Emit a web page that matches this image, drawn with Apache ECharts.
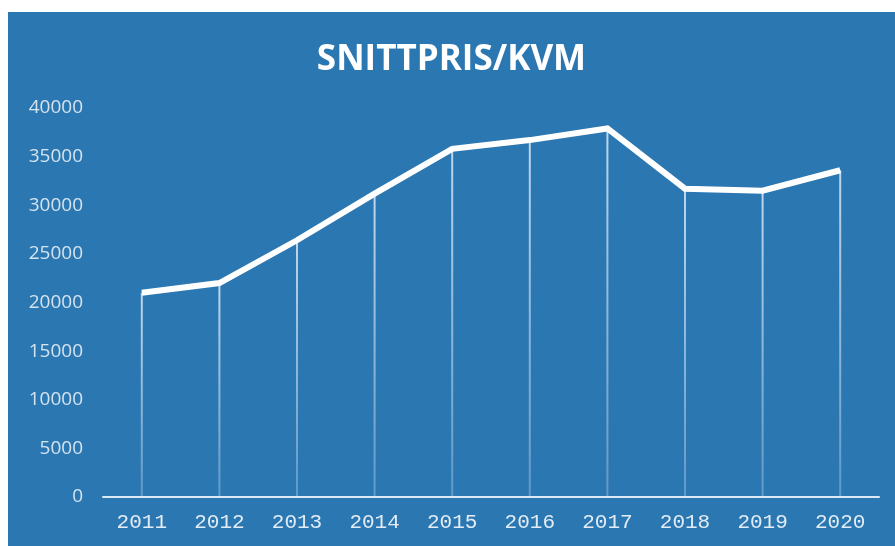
<!DOCTYPE html>
<html>
<head>
<meta charset="utf-8">
<script src="https://cdn.jsdelivr.net/npm/echarts@6/dist/echarts.min.js"></script>
<style>
html,body{margin:0;padding:0;background:#ffffff;width:895px;height:546px;overflow:hidden;}
#chart{position:absolute;left:8px;top:12px;width:887px;height:534px;}
</style>
</head>
<body>
<div id="chart"></div>
<script>
var titleText = 'SNITTPRIS/KVM';
var years = ['2011','2012','2013','2014','2015','2016','2017','2018','2019','2020'];
var prices = [21000, 22000, 26400, 31200, 35800, 36700, 37900, 31700, 31500, 33600];
var yMin = 0, yMax = 40000, yStep = 5000;

var chart = echarts.init(document.getElementById('chart'), null, {renderer:'canvas'});
chart.setOption({
  animation:false,
  backgroundColor:'#2b77b1',
  title:{
    text:titleText,
    left:'center',
    top:21,
    textStyle:{color:'#ffffff',fontFamily:'Open Sans',fontWeight:'bold',fontSize:35,lineHeight:44}
  },
  grid:{left:95,right:16,top:96,bottom:49},
  xAxis:{
    type:'category',
    data:years,
    boundaryGap:true,
    axisLine:{show:true,lineStyle:{color:'#dce9f5',width:2}},
    axisTick:{show:false},
    splitLine:{show:false},
    axisLabel:{color:'#e2ecf6',fontFamily:'Liberation Mono',fontSize:21,margin:15}
  },
  yAxis:{
    type:'value',
    min:yMin,max:yMax,interval:yStep,
    axisLine:{show:false},
    axisTick:{show:false},
    splitLine:{show:false},
    axisLabel:{color:'#d4e3f0',fontFamily:'Open Sans',fontSize:19,margin:20,
      formatter:function(v){return String(v);}}
  },
  series:[
    {
      type:'bar',
      data:prices,
      barWidth:2,
      itemStyle:{color:new echarts.graphic.LinearGradient(0,0,0,1,[
        {offset:0,color:'rgba(215,232,248,0.85)'},
        {offset:1,color:'rgba(215,232,248,0.3)'}
      ])},
      z:1,
      silent:true
    },
    {
      type:'line',
      data:prices,
      symbol:'none',
      lineStyle:{color:'#ffffff',width:6,join:'miter',cap:'butt'},
      z:3,
      silent:true
    }
  ]
});
</script>
</body>
</html>
